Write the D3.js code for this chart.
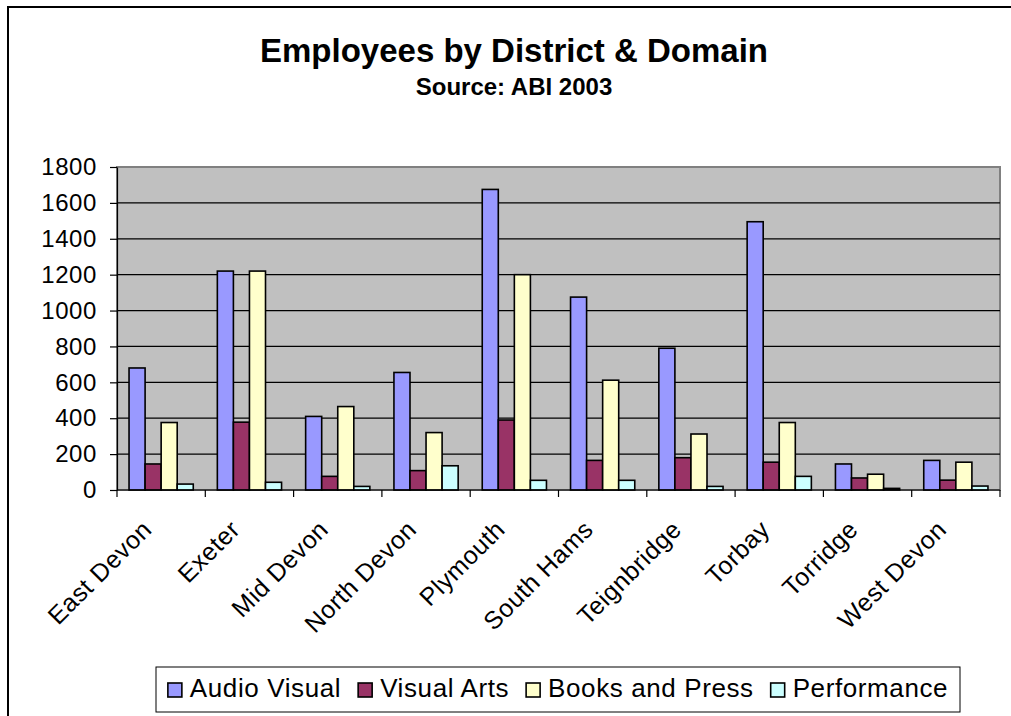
<!DOCTYPE html>
<html>
<head>
<meta charset="utf-8">
<script src="https://cdn.jsdelivr.net/npm/d3@7"></script>
<style>
  html, body { margin: 0; padding: 0; background: #fff; }
  svg { display: block; font-family: "Liberation Sans", Arial, sans-serif; }
</style>
</head>
<body>
<svg id="chart" width="1011" height="716"></svg>
<script>
// Employees per district, split by cultural domain (ABI 2003)
const districts = ["East Devon", "Exeter", "Mid Devon", "North Devon", "Plymouth",
                   "South Hams", "Teignbridge", "Torbay", "Torridge", "West Devon"];
const audioVisual   = [680, 1220, 410, 655, 1675, 1075, 790, 1495, 145, 165];
const visualArts    = [145, 378, 76, 108, 390, 165, 180, 155, 67, 55];
const booksPress    = [376, 1220, 465, 320, 1200, 612, 312, 376, 88, 155];
const performance   = [33, 43, 20, 135, 54, 54, 20, 76, 9, 22];
const seriesNames   = ["Audio Visual", "Visual Arts", "Books and Press", "Performance"];
const seriesColors  = ["#9999FF", "#993366", "#FFFFCC", "#CCFFFF"];
const yTicks        = [0, 200, 400, 600, 800, 1000, 1200, 1400, 1600, 1800];

const seriesValues = [audioVisual, visualArts, booksPress, performance];
const rows = districts.map((d, i) => ({
  district: d,
  values: seriesNames.map((s, k) => ({ series: s, value: seriesValues[k][i] }))
}));

const svg = d3.select("#chart");
const plot = { left: 117, right: 1000, top: 167, bottom: 490 };

// chart area frame
svg.append("rect")
  .attr("x", 8).attr("y", 7).attr("width", 1100).attr("height", 800)
  .attr("fill", "#fff").attr("stroke", "#000").attr("stroke-width", 2);

// titles
svg.append("text")
  .attr("x", 514).attr("y", 62).attr("text-anchor", "middle")
  .attr("font-size", 33).attr("font-weight", "bold")
  .text("Employees by District & Domain");
svg.append("text")
  .attr("x", 514).attr("y", 95).attr("text-anchor", "middle")
  .attr("font-size", 24).attr("font-weight", "bold")
  .text("Source: ABI 2003");

const x0 = d3.scaleBand().domain(districts).range([plot.left, plot.right]).paddingInner(0).paddingOuter(0);
const x1 = d3.scaleBand().domain(seriesNames).range([0, x0.bandwidth()]).paddingInner(0).paddingOuter(0.75);
const y = d3.scaleLinear().domain([0, 1800]).range([plot.bottom, plot.top]);
const color = d3.scaleOrdinal().domain(seriesNames).range(seriesColors);

// plot background
svg.append("rect")
  .attr("x", plot.left).attr("y", plot.top)
  .attr("width", plot.right - plot.left).attr("height", plot.bottom - plot.top)
  .attr("fill", "#C0C0C0").attr("stroke", "#808080").attr("stroke-width", 2);

// gridlines
svg.append("g")
  .selectAll("line")
  .data(yTicks.filter(t => t > 0 && t < 1800))
  .join("line")
  .attr("x1", plot.left).attr("x2", plot.right)
  .attr("y1", d => y(d)).attr("y2", d => y(d))
  .attr("stroke", "#000").attr("stroke-width", 1.2);

// bars
svg.append("g")
  .selectAll("g")
  .data(rows)
  .join("g")
  .attr("transform", d => `translate(${x0(d.district)},0)`)
  .selectAll("rect")
  .data(d => d.values)
  .join("rect")
  .attr("x", d => x1(d.series))
  .attr("width", x1.bandwidth())
  .attr("y", d => y(d.value))
  .attr("height", d => y(0) - y(d.value))
  .attr("fill", d => color(d.series))
  .attr("stroke", "#000").attr("stroke-width", 1.6);

// y axis
const yAxis = svg.append("g")
  .attr("transform", `translate(${plot.left},0)`)
  .call(d3.axisLeft(y).tickValues(yTicks).tickFormat(d3.format("d"))
    .tickSize(7).tickPadding(13).tickSizeOuter(0));
yAxis.select(".domain").attr("stroke", "#000").attr("stroke-width", 1.2);
yAxis.selectAll(".tick line").attr("stroke", "#000").attr("stroke-width", 1.2);
yAxis.selectAll("text")
  .attr("font-size", 24).attr("letter-spacing", 0.6).attr("fill", "#000")
  .attr("font-family", "Liberation Sans, Arial, sans-serif");

// x axis with boundary ticks between districts
const xg = svg.append("g");
xg.append("line")
  .attr("x1", plot.left).attr("x2", plot.right)
  .attr("y1", plot.bottom).attr("y2", plot.bottom)
  .attr("stroke", "#000").attr("stroke-width", 1.2);
const boundaries = districts.map(d => x0(d)).concat([x0(districts[districts.length - 1]) + x0.bandwidth()]);
xg.selectAll("line.tick")
  .data(boundaries)
  .join("line")
  .attr("class", "tick")
  .attr("x1", d => d).attr("x2", d => d)
  .attr("y1", plot.bottom).attr("y2", plot.bottom + 7)
  .attr("stroke", "#000").attr("stroke-width", 1.2);
xg.selectAll("text")
  .data(districts)
  .join("text")
  .attr("transform", d => `translate(${x0(d) + x0.bandwidth() / 2 - 8},531) rotate(-45)`)
  .attr("text-anchor", "end")
  .attr("font-size", 25).attr("letter-spacing", 0.5)
  .text(d => d);

// legend
const legend = svg.append("g");
const box = { x: 156, y: 667, w: 804, h: 45 };
legend.append("rect")
  .attr("x", box.x).attr("y", box.y).attr("width", box.w).attr("height", box.h)
  .attr("fill", "#fff").attr("stroke", "#000").attr("stroke-width", 1);
const items = legend.selectAll("g.item")
  .data(seriesNames)
  .join("g").attr("class", "item");
items.append("rect")
  .attr("width", 14).attr("height", 14)
  .attr("fill", d => color(d)).attr("stroke", "#000").attr("stroke-width", 1.6);
items.append("text")
  .attr("x", 22).attr("y", 14)
  .attr("font-size", 26).attr("letter-spacing", 0.6)
  .text(d => d);
const widths = [];
items.each(function () {
  widths.push(22 + d3.select(this).select("text").node().getComputedTextLength());
});
const gap = 17;
const total = d3.sum(widths) + gap * (widths.length - 1);
let cursor = box.x + (box.w - total) / 2;
items.attr("transform", (d, i) => {
  const t = `translate(${cursor},${683})`;
  cursor += widths[i] + gap;
  return t;
});
</script>
</body>
</html>
